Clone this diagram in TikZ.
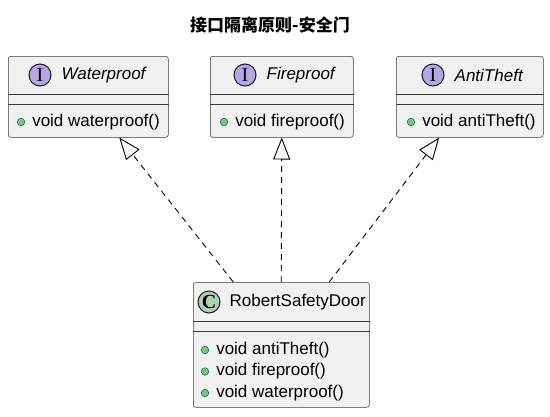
\documentclass[tikz,border=0pt]{standalone}
\usepackage{fontspec}
\setmainfont{Liberation Sans}
\newfontfamily\cjk{Noto Sans CJK SC}
\newfontfamily\markfont{Liberation Serif}
\usetikzlibrary{arrows.meta,positioning}

\definecolor{boxfill}{HTML}{F1F1F1}
\definecolor{boxline}{HTML}{181818}
\definecolor{ifacefill}{HTML}{B4A7E5}
\definecolor{classfill}{HTML}{ADD1B2}
\definecolor{pubfill}{HTML}{84BE84}
\definecolor{publine}{HTML}{038048}

\tikzset{
  umlbox/.style={draw=boxline!85, fill=boxfill, rounded corners=2.5pt, line width=0.5pt, anchor=north west, inner sep=0pt},
  kindmark/.style={circle, draw=boxline, line width=1pt, minimum size=22pt, inner sep=0pt, font=\markfont\fontsize{20}{20}\selectfont},
  clsname/.style={inner sep=0pt, anchor=west, font=\fontsize{17}{20}\selectfont},
  method/.style={inner sep=0pt, anchor=west, font=\fontsize{17}{20}\selectfont},
  pubdot/.style={circle, draw=publine, fill=pubfill, minimum size=7.5pt, inner sep=0pt, line width=0.6pt},
  divider/.style={draw=boxline!85, line width=0.5pt},
  realizes/.style={dash pattern=on 6pt off 5pt, line width=0.9pt, -{Triangle[open, length=22pt, width=17pt]}},
}

\begin{document}
\begin{tikzpicture}[x=1pt, y=-1pt]
    \useasboundingbox (0,0) rectangle (550,416);

    % title
    \node[font=\cjk\bfseries\fontsize{17}{20}\selectfont] (title) at (270,25) {接口隔离原则-安全门};

    % interfaces
    \node[umlbox, minimum width=160pt, minimum height=81pt] (wp) at (8,56) {};
    \node[umlbox, minimum width=143pt, minimum height=81pt] (fp) at (210,56) {};
    \node[umlbox, minimum width=147pt, minimum height=81pt] (at) at (396,56) {};

    \node[kindmark, fill=ifacefill] (wpmark) at ([xshift=32pt, yshift=-19pt]wp.north west) {I};
    \node[clsname, right=10pt of wpmark] (wpname) {\itshape Waterproof};
    \node[kindmark, fill=ifacefill] (fpmark) at ([xshift=35pt, yshift=-19pt]fp.north west) {I};
    \node[clsname, right=10pt of fpmark] (fpname) {\itshape Fireproof};
    \node[kindmark, fill=ifacefill] (atmark) at ([xshift=37pt, yshift=-19pt]at.north west) {I};
    \node[clsname, right=10pt of atmark] (atname) {\itshape AntiTheft};

    \draw[divider] ([yshift=-38pt]wp.north west) -- ([yshift=-38pt]wp.north east);
    \draw[divider] ([yshift=-48pt]wp.north west) -- ([yshift=-48pt]wp.north east);
    \draw[divider] ([yshift=-38pt]fp.north west) -- ([yshift=-38pt]fp.north east);
    \draw[divider] ([yshift=-48pt]fp.north west) -- ([yshift=-48pt]fp.north east);
    \draw[divider] ([yshift=-38pt]at.north west) -- ([yshift=-38pt]at.north east);
    \draw[divider] ([yshift=-48pt]at.north west) -- ([yshift=-48pt]at.north east);

    \node[pubdot] (wpdot) at ([xshift=13pt, yshift=-66pt]wp.north west) {};
    \node[method, right=7pt of wpdot] (wpop) {void waterproof()};
    \node[pubdot] (fpdot) at ([xshift=14pt, yshift=-66pt]fp.north west) {};
    \node[method, right=7pt of fpdot] (fpop) {void fireproof()};
    \node[pubdot] (atdot) at ([xshift=15pt, yshift=-66pt]at.north west) {};
    \node[method, right=7pt of atdot] (atop) {void antiTheft()};

    % implementing class
    \node[umlbox, minimum width=176pt, minimum height=125pt] (door) at (193,282) {};
    \node[kindmark, fill=classfill] (doormark) at ([xshift=16pt, yshift=-20pt]door.north west) {\bfseries C};
    \node[clsname, right=9pt of doormark] (doorname) {RobertSafetyDoor};
    \draw[divider] ([yshift=-39pt]door.north west) -- ([yshift=-39pt]door.north east);
    \draw[divider] ([yshift=-49pt]door.north west) -- ([yshift=-49pt]door.north east);

    \node[pubdot] (dot1) at ([xshift=12pt, yshift=-68pt]door.north west) {};
    \node[method, right=7pt of dot1] (op1) {void antiTheft()};
    \node[pubdot] (dot2) at ([xshift=12pt, yshift=-89.5pt]door.north west) {};
    \node[method, right=7pt of dot2] (op2) {void fireproof()};
    \node[pubdot] (dot3) at ([xshift=12pt, yshift=-111pt]door.north west) {};
    \node[method, right=7pt of dot3] (op3) {void waterproof()};

    % realizations
    \draw[realizes] ([xshift=-48pt]door.north) -- ([xshift=31pt]wp.south);
    \draw[realizes] (door.north) -- (fp.south);
    \draw[realizes] ([xshift=48pt]door.north) -- ([xshift=-30.5pt]at.south);
\end{tikzpicture}
\end{document}
